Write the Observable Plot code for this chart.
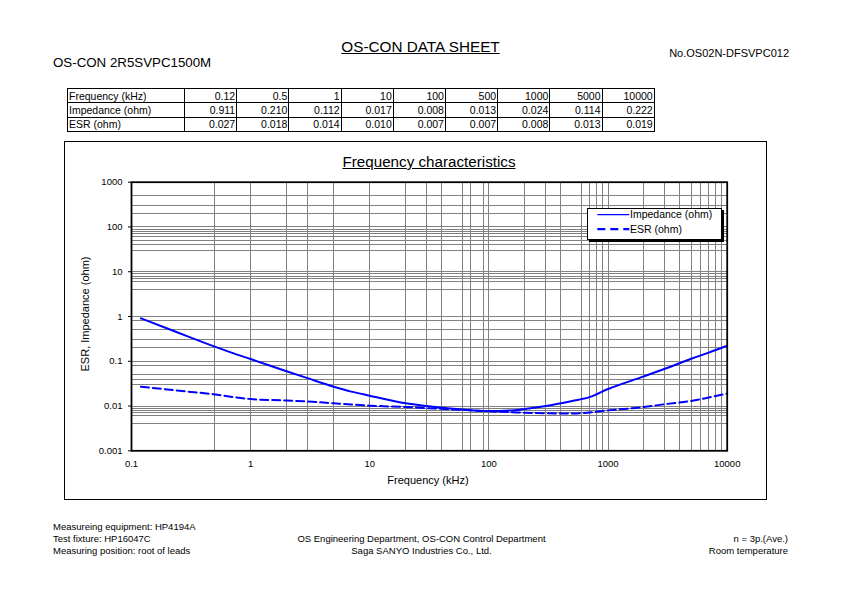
<!DOCTYPE html>
<html>
<head>
<meta charset="utf-8">
<script src="https://cdn.jsdelivr.net/npm/d3@7"></script>
<script src="https://cdn.jsdelivr.net/npm/@observablehq/plot@0.6"></script>
<style>
html,body{margin:0;padding:0;background:#fff;}
body{width:842px;height:595px;position:relative;overflow:hidden;font-family:"Liberation Sans",Arial,sans-serif;color:#000;}
.abs{position:absolute;white-space:nowrap;line-height:1;}
#sheetTitle{left:0;width:841px;text-align:center;top:38.5px;font-size:15.3px;text-decoration:underline;}
#model{left:53px;top:55.5px;font-size:13.3px;}
#docno{right:53px;top:47.7px;font-size:11px;}
#dataTable{position:absolute;left:67px;top:88px;border-collapse:collapse;table-layout:fixed;width:587px;font-size:10.5px;}
#dataTable td{border:1px solid #000;padding:0 1px 0 1px;height:13.3px;line-height:12px;text-align:right;overflow:hidden;}
#dataTable td:first-child{text-align:left;}
#box{position:absolute;left:64px;top:141px;width:703px;height:359px;box-sizing:border-box;border:1px solid #000;}
#chartTitle{left:0;width:858px;text-align:center;top:154px;font-size:15.2px;text-decoration:underline;}
#plotHolder{position:absolute;left:65px;top:142px;}
#xlabel{left:0;width:856px;text-align:center;top:474.7px;font-size:11px;}
#ylabel{left:85px;top:313.5px;font-size:11px;transform:translate(-50%,-50%) rotate(-90deg);}
#legend{position:absolute;left:586.7px;top:208.3px;width:135px;height:31.7px;box-sizing:border-box;border:1px solid #000;background:#fff;box-shadow:2px 2px 0 #000;}
#legend svg{position:absolute;left:0;top:0;}
.legtxt{position:absolute;left:42.3px;font-size:10.5px;line-height:1;white-space:nowrap;}
.foot{position:absolute;font-size:9.5px;line-height:12px;white-space:nowrap;}
#footL{left:53px;top:521px;}
#footC{left:0;width:843px;text-align:center;top:533px;}
#footR{right:54px;top:533px;text-align:right;}
</style>
</head>
<body>
<div id="sheetTitle" class="abs">OS-CON DATA SHEET</div>
<div id="model" class="abs">OS-CON 2R5SVPC1500M</div>
<div id="docno" class="abs">No.OS02N-DFSVPC012</div>
<table id="dataTable"><colgroup id="cols"></colgroup><tbody id="tbody"></tbody></table>
<div id="box"></div>
<div id="chartTitle" class="abs">Frequency characteristics</div>
<div id="plotHolder"></div>
<div id="xlabel" class="abs">Frequency (kHz)</div>
<div id="ylabel" class="abs">ESR, Impedance (ohm)</div>
<div id="legend"></div>
<div id="footL" class="foot">Measureing equipment: HP4194A<br>Test fixture: HP16047C<br>Measuring position: root of leads</div>
<div id="footC" class="foot">OS Engineering Department, OS-CON Control Department<br>Saga SANYO Industries Co., Ltd.</div>
<div id="footR" class="foot">n = 3p.(Ave.)<br>Room temperature</div>
<script>
// ---- table data (as printed) ----
const tableRowLabels = ["Frequency (kHz)", "Impedance (ohm)", "ESR (ohm)"];
const freqTable = ["0.12", "0.5", "1", "10", "100", "500", "1000", "5000", "10000"];
const impTable = ["0.911", "0.210", "0.112", "0.017", "0.008", "0.013", "0.024", "0.114", "0.222"];
const esrTable = ["0.027", "0.018", "0.014", "0.010", "0.007", "0.007", "0.008", "0.013", "0.019"];

// ---- curves ----
const curveFreq = [0.12, 0.2, 0.3, 0.5, 0.7, 1, 2, 3, 5, 7, 10, 20, 30, 50, 70, 100, 150, 200, 300, 500, 700, 1000, 2000, 3000, 5000, 7000, 10000];
const impCurve = [0.911, 0.54, 0.355, 0.212, 0.154, 0.112, 0.060, 0.042, 0.027, 0.021, 0.017, 0.0115, 0.0100, 0.0087, 0.0081, 0.0077, 0.0079, 0.0086, 0.0100, 0.013, 0.0158, 0.024, 0.046, 0.068, 0.114, 0.156, 0.222];
const esrCurve = [0.027, 0.0235, 0.021, 0.0182, 0.0160, 0.0143, 0.0133, 0.0126, 0.0115, 0.0108, 0.0102, 0.0095, 0.0090, 0.0084, 0.0080, 0.0076, 0.0073, 0.0071, 0.0069, 0.0068, 0.0072, 0.008, 0.0095, 0.011, 0.013, 0.0155, 0.019];

// ---- axes / grid ----
const xTicks = [0.1, 1, 10, 100, 1000, 10000];
const xTickLabels = ["0.1", "1", "10", "100", "1000", "10000"];
const yTicks = [0.001, 0.01, 0.1, 1, 10, 100, 1000];
const yTickLabels = ["0.001", "0.01", "0.1", "1", "10", "100", "1000"];
const xGrid = [0.5, 1, 2, 3, 5, 10, 20, 30, 40, 60, 70, 90, 100, 200, 300, 400, 600, 700, 800, 900, 1000, 2000, 3000, 4000, 5000, 6000, 7000, 8000, 9000];
const yGrid = [0.004, 0.006, 0.007, 0.008, 0.009, 0.01, 0.03, 0.04, 0.05, 0.08, 0.1, 0.2, 0.3, 0.5, 0.8, 1, 4, 6, 7, 8, 9, 10, 30, 40, 50, 60, 70, 80, 90, 100, 200, 300, 500];
const seriesNames = ["Impedance (ohm)", "ESR (ohm)"];

// build table
const cols = document.getElementById("cols");
const c0 = document.createElement("col"); c0.style.width = "117px"; cols.appendChild(c0);
freqTable.forEach(() => { const c = document.createElement("col"); c.style.width = "52.2px"; cols.appendChild(c); });
const tbody = document.getElementById("tbody");
[freqTable, impTable, esrTable].forEach((row, r) => {
  const tr = document.createElement("tr");
  const th = document.createElement("td"); th.textContent = tableRowLabels[r]; tr.appendChild(th);
  row.forEach(v => { const td = document.createElement("td"); td.textContent = v; tr.appendChild(td); });
  tbody.appendChild(tr);
});

const impRows = curveFreq.map((f, i) => ({f, v: impCurve[i]}));
const esrRows = curveFreq.map((f, i) => ({f, v: esrCurve[i]}));
const blue = "#0000ff";

const chart = Plot.plot({
  width: 701, height: 357,
  marginLeft: 66, marginRight: 39.3, marginTop: 39.7, marginBottom: 48.7,
  style: {background: "transparent", fontFamily: "'Liberation Sans', Arial, sans-serif", fontSize: "9.5px", color: "#000", overflow: "visible"},
  x: {type: "log", domain: [0.1, 10000]},
  y: {type: "log", domain: [0.001, 1000]},
  marks: [
    Plot.ruleX(xGrid, {stroke: "#808080", strokeWidth: 1, shapeRendering: "crispEdges"}),
    Plot.ruleY(yGrid, {stroke: "#808080", strokeWidth: 1, shapeRendering: "crispEdges"}),
    Plot.line(impRows, {x: "f", y: "v", stroke: blue, strokeWidth: 2, curve: "monotone-x"}),
    Plot.line(esrRows, {x: "f", y: "v", stroke: blue, strokeWidth: 2, strokeDasharray: "8,4", curve: "monotone-x"}),
    Plot.frame({stroke: "#000", strokeWidth: 1.8}),
    Plot.axisX({ticks: xTicks, tickSize: 0, tickPadding: 9, tickFormat: d => xTickLabels[xTicks.indexOf(d)], label: null}),
    Plot.axisY({ticks: yTicks, tickSize: 3, tickPadding: 6, tickFormat: d => yTickLabels[yTicks.indexOf(d)], label: null})
  ]
});
document.getElementById("plotHolder").appendChild(chart);

// legend
const leg = document.getElementById("legend");
const ns = "http://www.w3.org/2000/svg";
const lsvg = document.createElementNS(ns, "svg");
lsvg.setAttribute("width", 133); lsvg.setAttribute("height", 30);
const ys = [5.7, 20.2];
seriesNames.forEach((name, i) => {
  const ln = document.createElementNS(ns, "line");
  ln.setAttribute("x1", 9.3); ln.setAttribute("x2", 41.3);
  ln.setAttribute("y1", ys[i]); ln.setAttribute("y2", ys[i]);
  ln.setAttribute("stroke", blue);
  ln.setAttribute("stroke-width", i === 0 ? 1.2 : 2.2);
  if (i === 1) ln.setAttribute("stroke-dasharray", "8,5");
  lsvg.appendChild(ln);
  const t = document.createElement("div");
  t.className = "legtxt"; t.textContent = name;
  t.style.top = (ys[i] - 5.8) + "px";
  leg.appendChild(t);
});
leg.appendChild(lsvg);
</script>
</body>
</html>
